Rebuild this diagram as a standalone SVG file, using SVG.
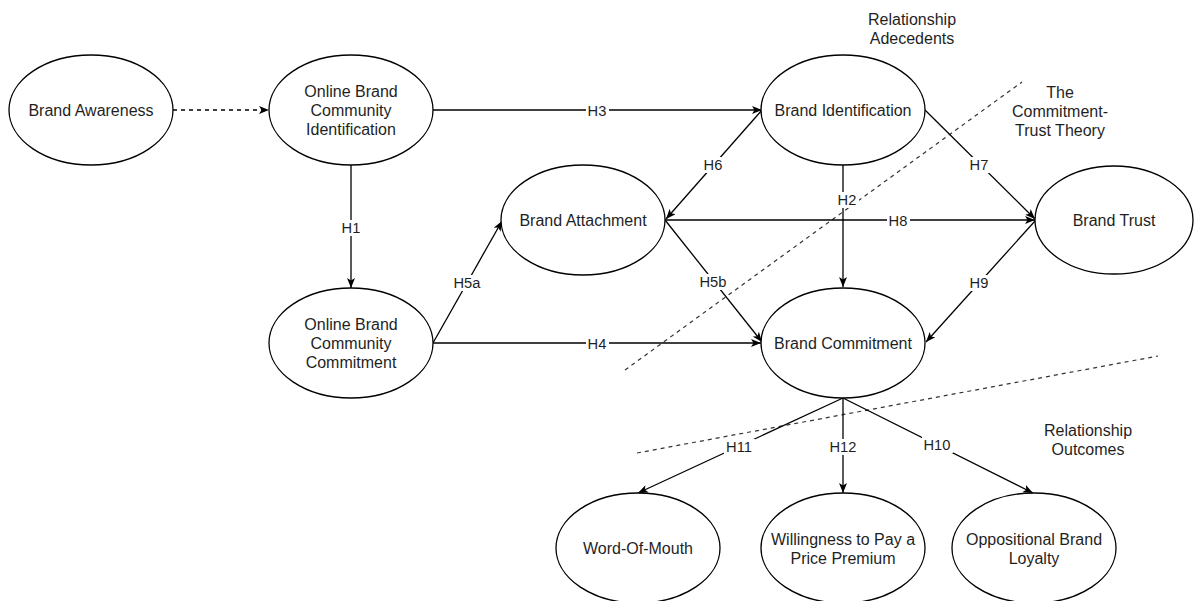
<svg xmlns="http://www.w3.org/2000/svg" width="1194" height="601" viewBox="0 0 1194 601">
  <defs>
    <marker id="arrow" viewBox="0 0 10 8" refX="10" refY="4" markerWidth="10" markerHeight="8" markerUnits="userSpaceOnUse" orient="auto">
      <path d="M0,0 L10,4 L0,8 L2.5,4 Z" fill="#000"/>
    </marker>
    <style>
      .node ellipse { fill: #fff; stroke: #000; stroke-width: 1.3; }
      .node text, .note { font-family: "Liberation Sans", Arial, Helvetica, sans-serif; font-size: 16px; fill: #1f1f1f; text-anchor: middle; }
      .edge { fill: none; stroke: #000; stroke-width: 1.3; }
      .arrowed { marker-end: url(#arrow); }
      .dashed { stroke-dasharray: 4 4; }
      .divider { fill: none; stroke: #333; stroke-width: 1.2; stroke-dasharray: 4 4; }
      .lbl-bg { fill: #fff; }
      .lbl { font-family: "Liberation Sans", Arial, Helvetica, sans-serif; font-size: 14.7px; fill: #1f1f1f; text-anchor: middle; }
    </style>
  </defs>

  <rect width="1194" height="601" fill="#fff"/>

  <!-- section dividers -->
  <g id="dividers">
    <line class="divider" x1="625" y1="370" x2="1022" y2="82"/>
    <line class="divider" x1="637" y1="453" x2="1158" y2="356"/>
  </g>

  <!-- connectors -->
  <g id="connectors">
    <line class="edge arrowed dashed" x1="173" y1="110" x2="269" y2="110"/>
    <line class="edge arrowed" x1="433" y1="110" x2="762" y2="110"/>
    <line class="edge arrowed" x1="351" y1="165" x2="351" y2="288"/>
    <line class="edge arrowed" x1="433" y1="343" x2="502" y2="221"/>
    <line class="edge arrowed" x1="433" y1="343" x2="761" y2="343"/>
    <line class="edge arrowed" x1="762" y1="110" x2="666" y2="219"/>
    <line class="edge arrowed" x1="665" y1="220" x2="762" y2="342"/>
    <line class="edge arrowed" x1="843" y1="165" x2="843" y2="287"/>
    <line class="edge arrowed" x1="665" y1="220" x2="1035" y2="220"/>
    <line class="edge arrowed" x1="925" y1="110" x2="1035" y2="219"/>
    <line class="edge arrowed" x1="1035" y1="221" x2="926" y2="342"/>
    <line class="edge arrowed" x1="843" y1="398" x2="638" y2="493"/>
    <line class="edge arrowed" x1="843" y1="398" x2="843" y2="493"/>
    <line class="edge arrowed" x1="843" y1="398" x2="1033" y2="493"/>

    <!-- edge labels -->
    <rect class="lbl-bg" x="586" y="103" width="23" height="16"/>
    <text class="lbl" x="597" y="116">H3</text>
    <rect class="lbl-bg" x="340" y="220" width="23" height="16"/>
    <text class="lbl" x="351" y="233">H1</text>
    <rect class="lbl-bg" x="702" y="157" width="23" height="16"/>
    <text class="lbl" x="713" y="170">H6</text>
    <rect class="lbl-bg" x="968" y="157" width="23" height="16"/>
    <text class="lbl" x="979" y="170">H7</text>
    <rect class="lbl-bg" x="836" y="192" width="23" height="16"/>
    <text class="lbl" x="847" y="205">H2</text>
    <rect class="lbl-bg" x="887" y="213" width="23" height="16"/>
    <text class="lbl" x="898" y="226">H8</text>
    <rect class="lbl-bg" x="452" y="275" width="31" height="16"/>
    <text class="lbl" x="467" y="288">H5a</text>
    <rect class="lbl-bg" x="698" y="274" width="31" height="16"/>
    <text class="lbl" x="713" y="287">H5b</text>
    <rect class="lbl-bg" x="968" y="275" width="23" height="16"/>
    <text class="lbl" x="979" y="288">H9</text>
    <rect class="lbl-bg" x="586" y="336" width="23" height="16"/>
    <text class="lbl" x="597" y="349">H4</text>
    <rect class="lbl-bg" x="724" y="439" width="31" height="16"/>
    <text class="lbl" x="739" y="452">H11</text>
    <rect class="lbl-bg" x="828" y="439" width="31" height="16"/>
    <text class="lbl" x="843" y="452">H12</text>
    <rect class="lbl-bg" x="922" y="437" width="31" height="16"/>
    <text class="lbl" x="937" y="450">H10</text>
  </g>

  <!-- nodes -->
  <g id="brand-awareness" class="node">
    <ellipse cx="91" cy="110" rx="82" ry="55"/>
    <text x="91" y="116">Brand Awareness</text>
  </g>
  <g id="obc-identification" class="node">
    <ellipse cx="351" cy="110" rx="82" ry="55"/>
    <text x="351" y="97">Online Brand</text>
    <text x="351" y="116">Community</text>
    <text x="351" y="135">Identification</text>
  </g>
  <g id="brand-identification" class="node">
    <ellipse cx="843" cy="110" rx="82" ry="55"/>
    <text x="843" y="116">Brand Identification</text>
  </g>
  <g id="brand-attachment" class="node">
    <ellipse cx="583" cy="220" rx="82" ry="55"/>
    <text x="583" y="226">Brand Attachment</text>
  </g>
  <g id="brand-trust" class="node">
    <ellipse cx="1114" cy="220" rx="79" ry="54"/>
    <text x="1114" y="226">Brand Trust</text>
  </g>
  <g id="obc-commitment" class="node">
    <ellipse cx="351" cy="343" rx="82" ry="55"/>
    <text x="351" y="330">Online Brand</text>
    <text x="351" y="349">Community</text>
    <text x="351" y="368">Commitment</text>
  </g>
  <g id="brand-commitment" class="node">
    <ellipse cx="843" cy="343" rx="82" ry="55"/>
    <text x="843" y="349">Brand Commitment</text>
  </g>
  <g id="word-of-mouth" class="node">
    <ellipse cx="638" cy="548" rx="82" ry="55"/>
    <text x="638" y="554">Word-Of-Mouth</text>
  </g>
  <g id="price-premium" class="node">
    <ellipse cx="843" cy="548" rx="82" ry="55"/>
    <text x="843" y="545">Willingness to Pay a</text>
    <text x="843" y="564">Price Premium</text>
  </g>
  <g id="oppositional-loyalty" class="node">
    <ellipse cx="1034" cy="548" rx="82" ry="55"/>
    <text x="1034" y="545">Oppositional Brand</text>
    <text x="1034" y="564">Loyalty</text>
  </g>

  <!-- section notes -->
  <g id="notes">
    <text class="note" x="912" y="25">Relationship</text>
    <text class="note" x="912" y="44">Adecedents</text>
    <text class="note" x="1060" y="98">The</text>
    <text class="note" x="1060" y="117">Commitment-</text>
    <text class="note" x="1060" y="136">Trust Theory</text>
    <text class="note" x="1088" y="436">Relationship</text>
    <text class="note" x="1088" y="455">Outcomes</text>
  </g>
</svg>
